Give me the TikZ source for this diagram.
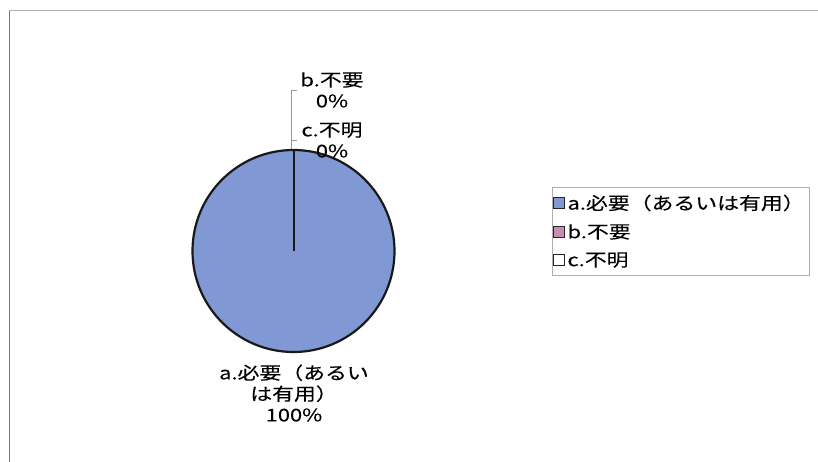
\documentclass[tikz,border=0pt]{standalone}
\usepackage{fontspec}
\setmainfont{Noto Sans CJK JP}[FakeBold=0.1]
\usepackage{graphicx}
\usepackage{tikz}
\usetikzlibrary{positioning}
\definecolor{tortenblau}{RGB}{128,153,212}
\definecolor{legendrosa}{RGB}{198,140,178}
\definecolor{rahmen}{RGB}{120,120,120}
\definecolor{leiter}{RGB}{150,150,150}
\colorlet{rahmen-heller}{rahmen!60}
\newcommand{\breit}[1]{\scalebox{1.25}[1]{#1}}

\begin{document}
\begin{tikzpicture}[x=1pt, y=-1pt,
    beschr/.style={font=\fontsize{17.5}{21}\selectfont, align=center, inner sep=0pt},
    marke/.style={draw=black!85, line width=1.7pt, minimum size=11pt, inner sep=0pt},
    legtext/.style={font=\fontsize{17.5}{21}\selectfont, anchor=west, inner sep=0pt}]

    \useasboundingbox (0,0) rectangle (818,462);
    \draw[rahmen, thin] (9,462) -- (9,10);
    \draw[rahmen-heller, thin] (9,10) -- (818,10);

    % torte
    \node[circle, fill=tortenblau, draw=black!90, line width=2.2pt, minimum size=202pt, inner sep=0pt] (torte) at (293.5,251) {};
    \draw[black!90, line width=2pt] (torte.center) -- (torte.north);

    \node[beschr] (labelA) at (294,393) {\breit{a.必要（あるい}\\\breit{は有用）}\\\breit{100\%}};
    \node[beschr] (labelB) at (332,90) {\breit{b.不要}\\\breit{0\%}};
    \node[beschr] (labelC) at (332,140) {\breit{c.不明}\\\breit{0\%}};

    \coordinate (knickB) at (291.5,90);
    \coordinate (knickC) at (291.5,140);
    \draw[leiter, thin] ([xshift=5pt]knickB) -- (knickB) -- (knickB |- torte.north);
    \draw[leiter, thin] (knickC) -- ([xshift=5pt]knickC);

    % legende
    \draw[rahmen-heller, thin] (552,187) rectangle (809,275);
    \node[marke, fill=tortenblau] (markeA) at (559,203) {};
    \node[marke, fill=legendrosa] (markeB) at (559,232) {};
    \node[marke, fill=white] (markeC) at (559,260) {};
    \node[legtext, right=2pt of markeA] (textA) {\breit{a.必要（あるいは有用）}};
    \node[legtext, right=2pt of markeB] (textB) {\breit{b.不要}};
    \node[legtext, right=2pt of markeC] (textC) {\breit{c.不明}};

\end{tikzpicture}
\end{document}
